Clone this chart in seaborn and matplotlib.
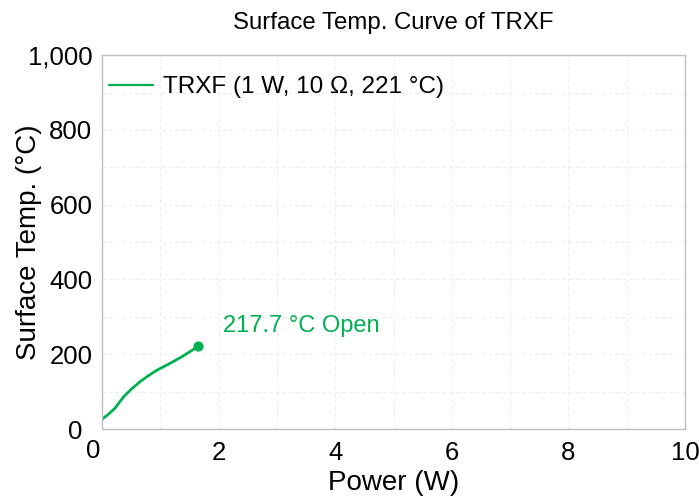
import matplotlib
matplotlib.use("Agg")
import matplotlib.pyplot as plt
import seaborn as sns
import pandas as pd
from matplotlib.ticker import FuncFormatter, MultipleLocator

power = [0.0, 0.1, 0.22, 0.37, 0.5, 0.65, 0.8, 0.94, 1.1, 1.22, 1.4, 1.55, 1.65]
temp = [26, 38, 55, 86, 106, 126, 143, 157, 170, 180, 196, 211, 221]
series_name = "TRXF (1 W, 10 Ω, 221 °C)"
open_label = "217.7 °C Open"
green = "#00B050"

sns.set_theme(style="white")
plt.rcParams['font.family'] = ['Liberation Sans', 'DejaVu Sans']

df = pd.DataFrame({"Power (W)": power, "Surface Temp. (°C)": temp})

fig = plt.figure(figsize=(6.99, 4.97), dpi=100)
ax = fig.add_axes([0.146, 0.137, 0.834, 0.752])
sns.lineplot(data=df, x="Power (W)", y="Surface Temp. (°C)", ax=ax, color=green,
             linewidth=2, label=series_name)
ax.scatter([power[-1]], [temp[-1]], color=green, s=40, zorder=5)
ax.text(2.07, 275, open_label, color=green, fontsize=17, va="center", ha="left")

ax.set_xlim(0, 10)
ax.set_ylim(0, 1000)
ax.xaxis.set_major_locator(MultipleLocator(2))
ax.xaxis.set_minor_locator(MultipleLocator(1))
ax.yaxis.set_major_locator(MultipleLocator(200))
ax.yaxis.set_minor_locator(MultipleLocator(100))
# zero labels are drawn separately below (offset as in the reference)
ax.xaxis.set_major_formatter(FuncFormatter(lambda v, p: "" if v == 0 else f"{v:g}"))
ax.yaxis.set_major_formatter(FuncFormatter(lambda v, p: "" if v == 0 else f"{int(v):,}"))
ax.grid(True, which="both", color="#ededed", linestyle=(0, (3, 3)), linewidth=0.8)
ax.tick_params(axis="both", which="major", length=0, colors="black", labelsize=18.5)
ax.tick_params(axis="x", which="major", pad=8.5)
ax.tick_params(axis="y", which="major", pad=7)
ax.tick_params(axis="both", which="minor", length=0)

ax.annotate("0", xy=(0, 0), xytext=(-6.5, -15.8), textcoords="offset points",
            ha="center", va="center", fontsize=18.5, color="black", annotation_clip=False)
ax.annotate("0", xy=(0, 0), xytext=(-19.4, -2.2), textcoords="offset points",
            ha="center", va="center", fontsize=18.5, color="black", annotation_clip=False)

ax.set_xlabel("Power (W)", fontsize=20, color="black", va="center")
ax.xaxis.set_label_coords(0.5, (429 - 483) / 375)
ax.set_ylabel("Surface Temp. (°C)", fontsize=20, color="black", va="center")
ax.yaxis.set_label_coords((29 - 102) / 583, 0.5)
ax.set_title("Surface Temp. Curve of TRXF", fontsize=17.3, pad=19, color="black")
for s in ax.spines.values():
    s.set_color("#bfbfbf")
    s.set_linewidth(1)
leg = ax.legend(loc="upper left", bbox_to_anchor=(0.004, 0.957), frameon=False,
                handlelength=1.8, handletextpad=0.4, borderaxespad=0, borderpad=0.2,
                prop={'size': 17.5})
for t in leg.get_texts():
    t.set_color("black")
for h in leg.get_lines():
    h.set_linewidth(1.6)
fig.savefig("out.png", dpi=100)
